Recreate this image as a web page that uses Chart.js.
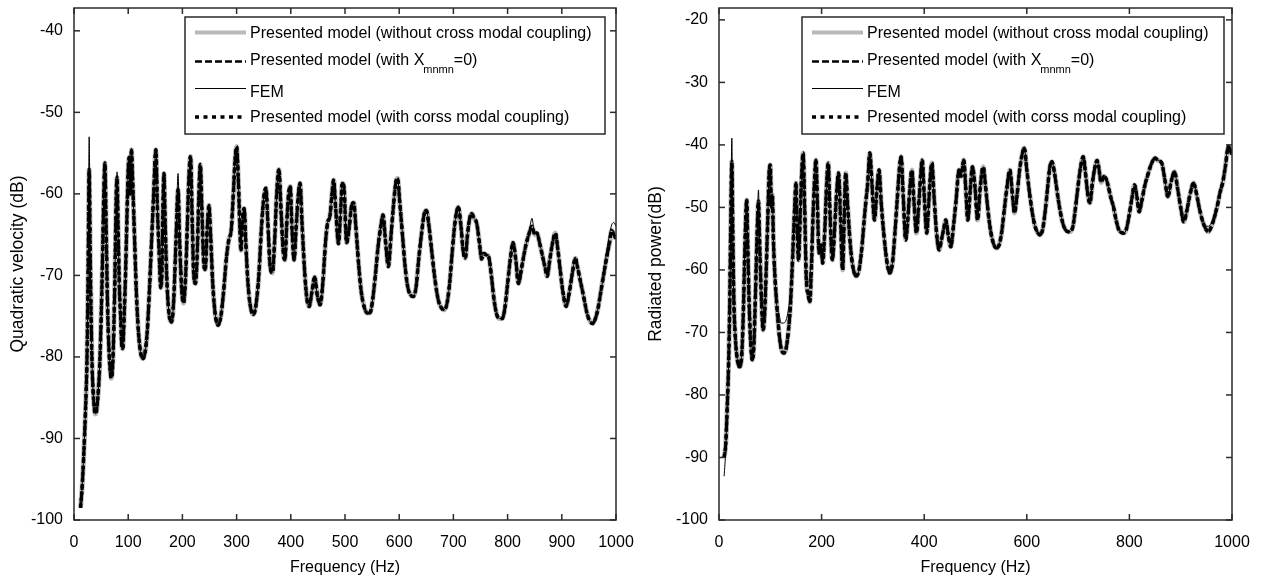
<!DOCTYPE html>
<html>
<head>
<meta charset="utf-8">
<script src="https://cdn.jsdelivr.net/npm/chart.js@4.4.1/dist/chart.umd.min.js"></script>
<style>
body{margin:0;background:#fff;}
#wrap{position:relative;width:1262px;height:581px;overflow:hidden;}
canvas{position:absolute;top:0;}
</style>
</head>
<body>
<div id="wrap">
<canvas id="chartLeft" width="650" height="581" style="left:0"></canvas>
<canvas id="chartRight" width="631" height="581" style="left:631px"></canvas>
</div>
<script>
// left panel: quadratic velocity
const freqL = [
12,15,18,21,24,26,28,30,33,37, 40,44,48,52,55,57,59,62,66,69,
72,75,78,79.5,81,84,86,88,90,92, 95,98,100,102,104,106,108,110,112,115,
119,123,127,131,135,139,143,147,151,154, 157,160,162,164,166,168,171,175,180,184,
188,192,195,199,202,206,209,212,215,218, 221,224,227,230,233,236,239,242,246,249,
252,256,261,266,271,276,281,286,290,294, 297,300,303,306,308,311,314,317,321,326,
331,336,341,346,351,354,358,362,366,370, 374,378,382,386,389,393,396,399,402,406,
410,414,417,421,426,430,434,439,444,449, 454,459,464,468,472,476,479,483,488,492,
495,498,503,508,512,516,520,525,530,536, 541,546,551,556,561,566,570,575,580,585,
590,594,597,601,606,611,616,621,626,631, 636,641,646,650,655,660,666,672,678,683,
688,693,698,703,709,714,718,722,726,730, 734,738,743,748,752,756,761,765,770,775,
780,785,790,795,800,805,810,815,820,826, 833,839,845,850,854,859,864,869,873,878,
883,888,893,897,902,908,914,920,925,929, 934,940,946,951,957,962,967,972,977,983,
988,992,996,1000
];
const modelL = [
-98.5,-96,-92,-87,-80,-70,-57,-68,-80,-86, -87,-85,-80,-70,-60,-56.2,-63,-74,-81,-82.6,
-80,-72,-60,-58,-63,-72,-75,-78.5,-79,-76, -70,-62,-57,-55.5,-60,-54.6,-58,-62,-66,-72,
-77,-79.5,-80.2,-79.5,-77,-72,-66,-60,-54.6,-62, -67,-71.5,-70,-62,-57.5,-63,-70,-74.5,-75.7,-73,
-66,-59.5,-66,-72,-73.4,-70,-64,-58,-55.4,-63, -70,-71,-68,-61,-56.4,-62,-68,-69.3,-64,-61.4,
-65,-71,-75,-76.1,-75,-72,-68,-65.5,-64.5,-60, -56,-54.2,-58,-64,-66.9,-63,-61.8,-66,-71,-74,
-74.8,-73.5,-70,-64,-60,-59.3,-64,-69,-69.7,-66, -60,-57,-62,-67,-68.1,-63,-60,-59.1,-64,-68.1,
-64,-60,-58.7,-64,-70,-73,-73.8,-72,-70.2,-72.5, -73.6,-71,-66,-63.5,-62.8,-60,-58.3,-62,-66.1,-62,
-58.7,-59.1,-66,-64,-61.5,-61.1,-64,-68.5,-72,-74, -74.6,-74.6,-73,-70,-66.5,-64,-62.6,-66,-68.9,-65,
-61,-58.5,-58.1,-61,-65,-69,-71.5,-72.4,-72.6,-71.5, -68,-65,-62.5,-62,-64,-67,-70.5,-73,-74,-74.2,
-73.5,-71,-67,-63.5,-61.6,-64,-67,-67.9,-65,-63, -62.4,-63,-63.6,-66,-68,-67.3,-67.5,-67.7,-70,-73,
-74.8,-75.3,-75.3,-74,-71,-68,-66,-68,-71,-69, -66.5,-65,-64,-65,-64.8,-66,-67.5,-69,-70.1,-68,
-66,-64.8,-67,-69.3,-72,-73.8,-72,-69.5,-67.9,-69, -70.6,-72.5,-74.5,-75.5,-75.9,-75.3,-74,-72,-70,-67.7,
-66,-64.5,-65,-65.5
];
const femL = [
-98.5,-96,-92,-87,-80,-70,-53,-68,-80,-86, -87,-85,-80,-70,-60,-56.2,-63,-74,-81,-82.6,
-80,-72,-60,-57.3,-63,-72,-75,-78.5,-79,-76, -70,-62,-57,-55.5,-60,-54.6,-58,-62,-66,-72,
-77,-79.5,-80.2,-79.5,-77,-72,-66,-60,-54.6,-62, -67,-71.5,-70,-62,-57.5,-63,-70,-74.5,-75.7,-73,
-66,-57.5,-66,-72,-73.4,-70,-64,-58,-55.4,-63, -70,-71,-68,-61,-56.4,-62,-68,-69.3,-64,-61.4,
-65,-71,-75,-76.1,-75,-72,-68,-65.5,-64.5,-60, -56,-54.2,-58,-64,-66.9,-63,-61.8,-66,-71,-74,
-74.8,-73.5,-70,-64,-60,-59.3,-64,-69,-69.7,-66, -60,-57,-62,-67,-68.1,-63,-60,-59.1,-64,-68.1,
-64,-60,-58.7,-64,-70,-73,-73.8,-72,-70.2,-72.5, -73.6,-71,-66,-63.5,-62.8,-60,-58.3,-62,-66.1,-62,
-58.7,-59.1,-66,-64,-61.5,-61.1,-64,-68.5,-72,-74, -74.6,-74.6,-73,-70,-66.5,-64,-62.6,-66,-68.9,-65,
-61,-58.5,-58.1,-61,-65,-69,-71.5,-72.4,-72.6,-71.5, -68,-65,-62.5,-62,-64,-67,-70.5,-73,-74,-74.2,
-73.5,-71,-67,-63.5,-61.6,-64,-67,-67.9,-65,-63, -62.4,-63,-63.6,-66,-68,-67.3,-67.5,-67.7,-70,-73,
-74.8,-75.3,-75.3,-74,-71,-68,-66,-68,-71,-69, -66.5,-65,-63,-65,-64.8,-66,-67.5,-69,-70.1,-68,
-66,-64.8,-67,-69.3,-72,-73.8,-72,-69.5,-67.9,-69, -70.6,-72.5,-74.5,-75.5,-75.9,-75.3,-74,-72,-70,-67,
-65,-63.8,-63.5,-64
];

// right panel: radiated power
const freqR = [
10,13,16,19,21,23,25,27,29,32, 36,40,44,47,50,52,54,56,59,62,
65,68,71,74,77,79,82,86,89,92, 95,98,100,102,104,106,109,113,117,121,
126,131,135,139,142,145,148,150,152,155, 158,161,164,167,170,174,177,180,183,186,
189,192,195,199,202,206,210,213,216,221, 225,229,233,237,241,244,247,251,256,261,
267,273,279,283,286,290,294,298,303,308, 312,316,321,327,333,338,343,348,352,355,
359,364,368,372,376,380,385,389,393,396, 400,405,409,412,415,419,424,429,434,438,
442,447,452,457,462,468,472,477,481,485, 490,494,499,504,509,515,520,525,530,536,
541,546,551,556,561,567,572,576,581,586, 591,595,600,605,611,616,621,626,631,636,
641,645,649,654,660,666,672,678,684,690, 695,700,705,710,715,719,723,728,733,737,
740,745,750,755,759,764,769,774,779,784, 789,794,799,805,810,815,819,824,830,837,
843,850,856,863,869,875,881,888,894,900, 906,912,918,925,930,936,942,948,954,960,
966,972,977,982,987,993,997,1000
];
const modelR = [
-90,-88,-82,-74,-65,-52,-42.7,-55,-65,-71, -74.5,-75.5,-74,-68,-58,-52,-48.8,-56,-66,-72,
-74.4,-72,-64,-55,-49,-55,-63,-69.6,-67,-60, -52,-44,-43.2,-50,-48,-55,-61,-66,-70,-72.5,
-73.3,-72.5,-70,-66,-61,-55,-49,-46.1,-52,-58.4, -52,-45,-41.3,-50,-61,-64,-65.1,-60,-52,-46,
-42.4,-50,-57.3,-56,-58.9,-54,-46,-42.9,-50,-58.4, -54,-48,-44.5,-52,-60,-52,-44.5,-50,-56,-59.5,
-61,-60,-56,-52,-49.3,-46,-41.3,-46,-52,-47, -44,-49,-54,-58.5,-60.5,-59,-54,-48,-43.5,-41.9,
-48,-55.2,-52,-47,-44,-49,-54.1,-50,-45,-42.4, -48,-54.1,-49,-45,-42.9,-48,-54,-56.8,-55,-53.5,
-52,-54.5,-56.3,-53,-49,-44,-45,-42.4,-47,-52, -47,-43.5,-46.7,-52,-47,-43.5,-47,-51,-54,-56,
-56.5,-56,-54,-50.5,-47,-44,-48,-50.9,-48,-44, -41.5,-40.5,-44,-47.5,-51,-53,-54,-54.4,-53.5,-50.5,
-46.5,-43.5,-42.7,-44.5,-48,-51,-53,-53.8,-53.9,-53, -50,-46.5,-43.5,-41.9,-45,-48,-49.3,-46,-43.5,-42.5,
-43.5,-46,-45,-45.5,-46.7,-48.5,-49.9,-52,-53.5,-54, -54.1,-53.5,-51.5,-48.5,-46.4,-48.5,-50.7,-49,-46.5,-44.5,
-43,-42.1,-42.5,-42.9,-45.5,-48.3,-46,-44.3,-47,-50, -52.3,-50.5,-48,-46.1,-47.5,-50,-52,-53.3,-53.9,-53,
-51.5,-49.5,-47.5,-46,-43.5,-40.3,-41,-41.5
];
const femR = [
-93,-89,-82,-74,-65,-52,-38.9,-55,-65,-71, -74.5,-75.5,-74,-68,-58,-52,-48.8,-56,-66,-72,
-74.4,-72,-64,-55,-47.2,-55,-63,-69.6,-67,-60, -52,-44,-43.2,-50,-48,-55,-61,-66,-67,-68.5,
-68.5,-68,-66.5,-64,-60,-55,-49,-46.1,-52,-58.4, -52,-45,-41.3,-50,-61,-62,-61,-58,-52,-46,
-42.4,-50,-57.3,-56,-58.9,-54,-46,-42.9,-50,-58.4, -54,-48,-44.5,-52,-60,-52,-44.5,-50,-56,-59.5,
-61,-60,-56,-52,-49.3,-46,-41.3,-46,-52,-47, -44,-49,-54,-58.5,-60.5,-59,-54,-48,-43.5,-41.9,
-48,-55.2,-52,-47,-44,-49,-54.1,-50,-45,-42.4, -48,-54.1,-49,-45,-42.9,-48,-54,-56.8,-55,-53.5,
-52,-54.5,-56.3,-53,-49,-44,-45,-42.4,-47,-52, -47,-43.5,-46.7,-52,-47,-43.5,-47,-51,-54,-56,
-56.5,-56,-54,-50.5,-47,-44,-48,-50.9,-48,-44, -41.5,-40.5,-44,-47.5,-51,-53,-54,-54.4,-53.5,-50.5,
-46.5,-43.5,-42.7,-44.5,-48,-51,-53,-53.8,-53.9,-53, -50,-46.5,-43.5,-41.9,-45,-48,-49.3,-46,-43.5,-42.5,
-43.5,-46,-45,-45.5,-46.7,-48.5,-49.9,-52,-53.5,-54, -54.1,-53.5,-51.5,-48.5,-46.4,-48.5,-50.7,-49,-46.5,-44.5,
-43,-42.1,-42.5,-42.9,-45.5,-48.3,-46,-44.3,-47,-50, -52.3,-50.5,-48,-46.1,-47.5,-50,-52,-53,-53,-52.5,
-51,-49,-47,-45.5,-43,-40,-40.5,-41
];

const seriesNames = [
  'Presented model (without cross modal coupling)',
  'Presented model (with X',
  'FEM',
  'Presented model (with corss modal coupling)'
];

const fontFamily = "'Liberation Sans', Arial, sans-serif";
Chart.defaults.font.family = fontFamily;
Chart.defaults.color = '#000';

const toPoints = (xs, ys) => xs.map((x, i) => ({x: x, y: ys[i]}));

// matlab style frame with ticks pointing inwards on all four sides
const boxPlugin = {
  id: 'boxFrame',
  afterDatasetsDraw(chart) {
    const {ctx, chartArea: a} = chart;
    const xs = chart.scales.x, ys = chart.scales.y;
    const tick = (x1, y1, x2, y2) => { ctx.beginPath(); ctx.moveTo(x1, y1); ctx.lineTo(x2, y2); ctx.stroke(); };
    ctx.save();
    ctx.strokeStyle = '#2a2a2a';
    ctx.lineWidth = 1.5;
    ctx.strokeRect(a.left, a.top, a.right - a.left, a.bottom - a.top);
    xs.ticks.forEach(t => {
      const px = xs.getPixelForValue(t.value);
      tick(px, a.bottom, px, a.bottom - 6);
      tick(px, a.top, px, a.top + 6);
    });
    ys.ticks.forEach(t => {
      const py = ys.getPixelForValue(t.value);
      tick(a.left, py, a.left + 6, py);
      tick(a.right, py, a.right - 6, py);
    });
    ctx.restore();
  }
};

const legendPlugin = {
  id: 'boxLegend',
  afterDraw(chart, args, o) {
    const {ctx, chartArea: a} = chart;
    const bx = a.right - o.right - o.width, by = a.top + o.top;
    ctx.save();
    ctx.fillStyle = '#fff';
    ctx.fillRect(bx, by, o.width, o.height);
    ctx.strokeStyle = '#2a2a2a';
    ctx.lineWidth = 1.5;
    ctx.strokeRect(bx, by, o.width, o.height);
    const rows = [
      {ty: 16.5, ly: 15.5, color: '#b9b9b9', width: 4, dash: []},
      {ty: 44, ly: 44.5, color: '#000', width: 2.5, dash: [7, 3]},
      {ty: 76, ly: 71.5, color: '#000', width: 1, dash: []},
      {ty: 100.5, ly: 100, color: '#000', width: 3.5, dash: [4, 4.5]}
    ];
    ctx.textBaseline = 'middle';
    ctx.fillStyle = '#000';
    rows.forEach((r, i) => {
      ctx.beginPath();
      ctx.strokeStyle = r.color;
      ctx.lineWidth = r.width;
      ctx.setLineDash(r.dash);
      ctx.moveTo(bx + 10, by + r.ly);
      ctx.lineTo(bx + 61, by + r.ly);
      ctx.stroke();
      ctx.setLineDash([]);
      ctx.font = '16px ' + fontFamily;
      const tx = bx + 65;
      ctx.fillText(seriesNames[i], tx, by + r.ty);
      if (i === 1) {
        let w = ctx.measureText(seriesNames[i]).width;
        ctx.font = '11px ' + fontFamily;
        ctx.fillText('mnmn', tx + w - 1, by + r.ty + 9);
        w += ctx.measureText('mnmn').width - 1;
        ctx.font = '16px ' + fontFamily;
        ctx.fillText('=0)', tx + w, by + r.ty);
      }
    });
    ctx.restore();
  }
};

const paintGraph = (canvasName, freq, model, fem, cfg) => {
  const ctx = document.getElementById(canvasName);
  const font = {size: 16, family: fontFamily};
  new Chart(ctx, {
    type: 'line',
    data: {
      datasets: [
        {label: seriesNames[0], data: toPoints(freq, model), borderColor: '#b9b9b9', borderWidth: 5, order: 4},
        {label: seriesNames[1], data: toPoints(freq, model), borderColor: '#000', borderWidth: 3, borderDash: [6, 3], order: 2},
        {label: seriesNames[2], data: toPoints(freq, fem), borderColor: '#000', borderWidth: 1, order: 3},
        {label: seriesNames[3], data: toPoints(freq, model), borderColor: '#000', borderWidth: 3.5, borderDash: [3.5, 3], order: 1}
      ]
    },
    options: {
      responsive: false,
      animation: false,
      events: [],
      layout: {padding: {top: 8, right: cfg.padRight, left: 0, bottom: 0}},
      elements: {
        point: {radius: 0},
        line: {cubicInterpolationMode: 'monotone', fill: false}
      },
      plugins: {
        legend: {display: false},
        tooltip: {enabled: false},
        boxLegend: {right: cfg.legendRight, top: 9, width: cfg.legendWidth, height: 117}
      },
      scales: {
        x: {
          type: 'linear',
          min: 0,
          max: 1000,
          grid: {display: false, drawTicks: false},
          border: {display: false},
          ticks: {stepSize: cfg.xStep, padding: 13, font: font, color: '#000', maxRotation: 0, autoSkip: false, callback: v => String(v)},
          title: {display: true, text: 'Frequency (Hz)', font: font, color: '#000', padding: {top: 0, bottom: 4}},
          afterFit: s => { s.height = 61; s.paddingLeft = 0; s.paddingRight = 0; }
        },
        y: {
          min: -100,
          max: cfg.yMax,
          grid: {display: false, drawTicks: false},
          border: {display: false},
          ticks: {stepSize: 10, includeBounds: false, padding: 11, font: font, color: '#000', callback: v => String(v)},
          title: {display: true, text: cfg.yTitle, font: {size: 17.5, family: fontFamily}, color: '#000', padding: {top: cfg.titlePad, bottom: 0}},
          afterFit: s => { s.width = cfg.yWidth; s.paddingTop = 0; s.paddingBottom = 0; }
        }
      }
    },
    plugins: [boxPlugin, legendPlugin]
  });
};

paintGraph('chartLeft', freqL, modelL, femL, {
  padRight: 34, yWidth: 74, yMax: -37.2, xStep: 100, titlePad: 8,
  yTitle: 'Quadratic velocity (dB)', legendRight: 11, legendWidth: 420
});
paintGraph('chartRight', freqR, modelR, femR, {
  padRight: 30, yWidth: 88, yMax: -18.1, xStep: 200, titlePad: 15,
  yTitle: 'Radiated power(dB)', legendRight: 8, legendWidth: 422
});
</script>
</body>
</html>
